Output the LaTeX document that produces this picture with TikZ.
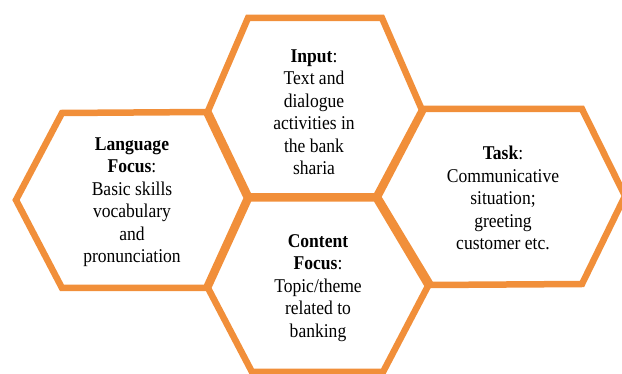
\documentclass[tikz,border=0pt]{standalone}
\usepackage{fontspec}
\setmainfont{Liberation Serif}
\newfontfamily\cellfont[FakeStretch=0.9]{Liberation Serif}
\definecolor{hexorange}{RGB}{241,143,58}
\gdef\hexline{hexorange}

\begin{document}
\begin{tikzpicture}[x=1pt, y=-1pt, hex/.style={draw=\hexline, line width=6.5pt},
  hextext/.style={align=center, inner sep=0pt, font=\cellfont\fontsize{19.5}{22.5}\selectfont}]

\useasboundingbox (0,0) rectangle (622,374);

% the four cells
\draw[hex] (208,111) -- (248,18) -- (382,18) -- (422,110) -- (376,196.5) -- (249,196.5) -- cycle;
\draw[hex] (16,200) -- (62,113) -- (206,112) -- (247,198) -- (206,288) -- (62,288) -- cycle;
\draw[hex] (208,288) -- (249,198.5) -- (376,198.5) -- (428,286) -- (383,372) -- (252,372) -- cycle;
\draw[hex] (378,197) -- (424,109) -- (582,109) -- (625,196) -- (582,284) -- (431,285) -- cycle;

\node[hextext] (input) at (314,112) {\textbf{Input}:\\Text and\\dialogue\\activities in\\the bank\\sharia};
\node[hextext] (language) at (132,202) {\textbf{Language}\\\textbf{Focus}:\\Basic skills\\vocabulary\\and\\pronunciation};
\node[hextext] (task) at (503,198) {\textbf{Task}:\\Communicative\\situation;\\greeting\\customer etc.};
\node[hextext] (content) at (318,288) {\textbf{Content}\\\textbf{Focus}:\\Topic/theme\\related to\\banking};

\end{tikzpicture}
\end{document}
